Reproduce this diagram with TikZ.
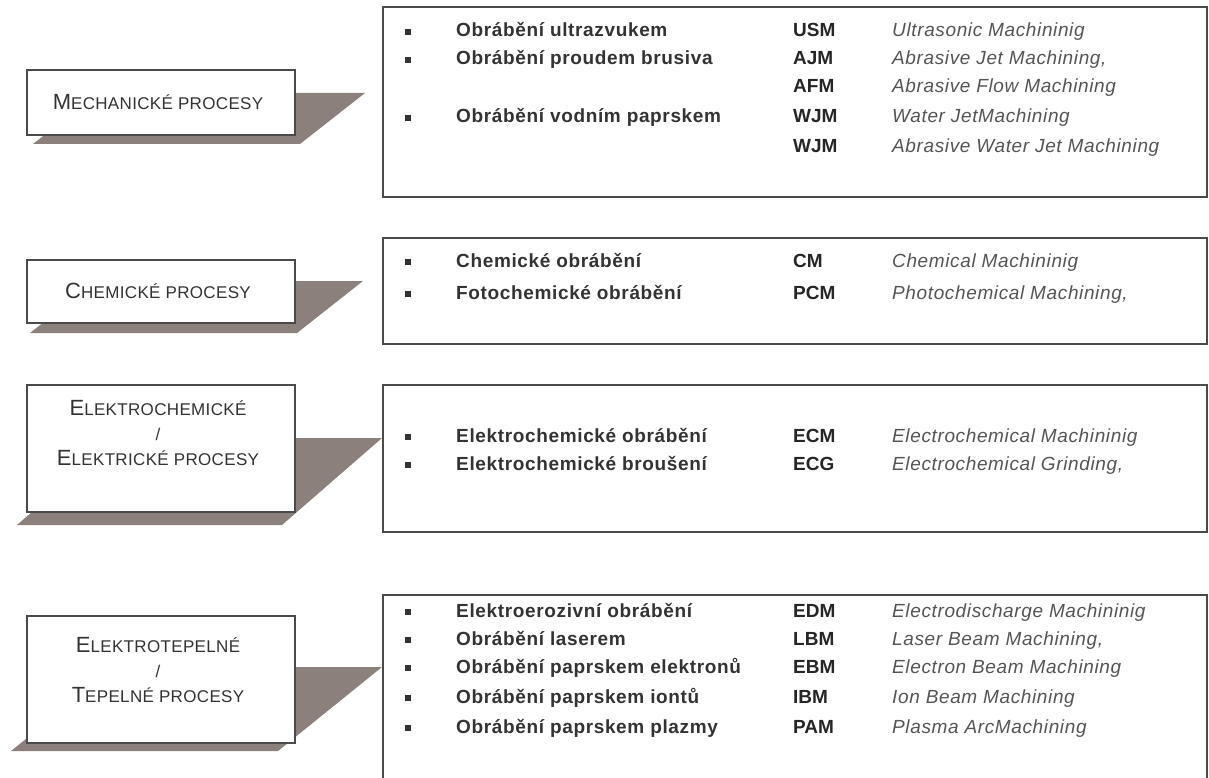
\documentclass[tikz,border=0pt]{standalone}
\usepackage{fontspec}
\setmainfont{Liberation Sans}
\usetikzlibrary{positioning}
\definecolor{framegray}{HTML}{4A4A4A}
\definecolor{shadowgray}{HTML}{8C807C}
\definecolor{textgray}{HTML}{333333}
\definecolor{enggray}{HTML}{555555}
\newcommand{\SCap}[2]{{\fontsize{22}{25}\selectfont #1}{\fontsize{17}{25}\selectfont #2}}
\tikzset{
  labelbox/.style={draw=framegray,line width=1.5pt,fill=white,minimum width=268,inner sep=0},
  listbox/.style={draw=framegray,line width=1.5pt,fill=white,minimum width=824,inner sep=0},
  labeltext/.style={align=center,text=textgray,font=\fontsize{17}{25}\selectfont\addfontfeature{LetterSpace=2},inner sep=0},
  czitem/.style={anchor=west,inner sep=0,text height=14pt,text depth=4pt,text=textgray,font=\fontsize{19}{22}\selectfont\bfseries\addfontfeature{LetterSpace=3.4}},
  abbr/.style={anchor=west,inner sep=0,text height=14pt,text depth=4pt,text=black!85,font=\fontsize{19}{22}\selectfont\bfseries},
  eng/.style={anchor=west,inner sep=0,text height=14pt,text depth=4pt,text=enggray,font=\fontsize{19}{22}\selectfont\itshape\addfontfeature{LetterSpace=3.3}},
  dot/.style={fill=textgray,minimum size=6,inner sep=0}
}
\begin{document}
\begin{tikzpicture}[x=1pt,y=-1pt]
\clip (0,0) rectangle (1209,778);
\fill[white] (0,0) rectangle (1209,778);
% shadows
\fill[shadowgray] (33,144) -- (300,144) -- (365,93) -- (98,93) -- cycle;
\fill[shadowgray] (30,333) -- (297,333) -- (363,281) -- (96,281) -- cycle;
\fill[shadowgray] (17,525) -- (282,525) -- (382,438) -- (117,438) -- cycle;
\fill[shadowgray] (11,751) -- (278,751) -- (382,667) -- (115,667) -- cycle;
%
\node (mech) [labelbox,minimum height=65] at (161,102.5) {};
\node (chem) [labelbox,minimum height=63] at (161,291.5) {};
\node (elch) [labelbox,minimum height=127] at (161,448.5) {};
\node (elte) [labelbox,minimum height=127] at (161,679.5) {};
\node (mechtext) [labeltext] at (158,102) {\SCap{M}{ECHANICKÉ} \SCap{}{PROCESY}};
\node (chemtext) [labeltext] at (158,291) {\SCap{C}{HEMICKÉ} \SCap{}{PROCESY}};
\node (elchtext) [labeltext] at (158,433) {\SCap{E}{LEKTROCHEMICKÉ}\\/\\\SCap{E}{LEKTRICKÉ} \SCap{}{PROCESY}};
\node (eltetext) [labeltext] at (158,670) {\SCap{E}{LEKTROTEPELNÉ}\\/\\\SCap{T}{EPELNÉ} \SCap{}{PROCESY}};
%
\node (mechlist) [listbox,minimum height=190] at (795,102) {};
\node (chemlist) [listbox,minimum height=106] at (795,291) {};
\node (elchlist) [listbox,minimum height=147] at (795,458.5) {};
\node (eltelist) [listbox,minimum height=210] at (795,700) {};
%
\node (mb1) [dot] at (408,32) {};
\node (mb2) [dot] at (408,60) {};
\node (mb4) [dot] at (408,118) {};
\node (mi1) [czitem] at (456,32) {Obrábění ultrazvukem};
\node (mi2) [czitem] at (456,60) {Obrábění proudem brusiva};
\node (mi4) [czitem] at (456,118) {Obrábění vodním paprskem};
\node (ma1) [abbr] at (793,32) {USM};
\node (ma2) [abbr] at (793,60) {AJM};
\node (ma3) [abbr] at (793,88) {AFM};
\node (ma4) [abbr] at (793,118) {WJM};
\node (ma5) [abbr] at (793,148) {WJM};
\node (me1) [eng] at (892,32) {Ultrasonic Machininig};
\node (me2) [eng] at (892,60) {Abrasive Jet Machining,};
\node (me3) [eng] at (892,88) {Abrasive Flow Machining};
\node (me4) [eng] at (892,118) {Water JetMachining};
\node (me5) [eng] at (892,148) {Abrasive Water Jet Machining};
%
\node (cb1) [dot] at (408,262) {};
\node (cb2) [dot] at (408,294) {};
\node (ci1) [czitem] at (456,262) {Chemické obrábění};
\node (ci2) [czitem] at (456,294) {Fotochemické obrábění};
\node (ca1) [abbr] at (793,262) {CM};
\node (ca2) [abbr] at (793,294) {PCM};
\node (ce1) [eng] at (892,262) {Chemical Machininig};
\node (ce2) [eng] at (892,294) {Photochemical Machining,};
%
\node (eb1) [dot] at (408,437) {};
\node (eb2) [dot] at (408,465) {};
\node (ei1) [czitem] at (456,437) {Elektrochemické obrábění};
\node (ei2) [czitem] at (456,465) {Elektrochemické broušení};
\node (ea1) [abbr] at (793,437) {ECM};
\node (ea2) [abbr] at (793,465) {ECG};
\node (ee1) [eng] at (892,437) {Electrochemical Machininig};
\node (ee2) [eng] at (892,465) {Electrochemical Grinding,};
%
\node (tb1) [dot] at (408,612) {};
\node (tb2) [dot] at (408,640) {};
\node (tb3) [dot] at (408,668) {};
\node (tb4) [dot] at (408,698) {};
\node (tb5) [dot] at (408,728) {};
\node (ti1) [czitem] at (456,612) {Elektroerozivní obrábění};
\node (ti2) [czitem] at (456,640) {Obrábění laserem};
\node (ti3) [czitem] at (456,668) {Obrábění paprskem elektronů};
\node (ti4) [czitem] at (456,698) {Obrábění paprskem iontů};
\node (ti5) [czitem] at (456,728) {Obrábění paprskem plazmy};
\node (ta1) [abbr] at (793,612) {EDM};
\node (ta2) [abbr] at (793,640) {LBM};
\node (ta3) [abbr] at (793,668) {EBM};
\node (ta4) [abbr] at (793,698) {IBM};
\node (ta5) [abbr] at (793,728) {PAM};
\node (te1) [eng] at (892,612) {Electrodischarge Machininig};
\node (te2) [eng] at (892,640) {Laser Beam Machining,};
\node (te3) [eng] at (892,668) {Electron Beam Machining};
\node (te4) [eng] at (892,698) {Ion Beam Machining};
\node (te5) [eng] at (892,728) {Plasma ArcMachining};
\end{tikzpicture}
\end{document}
